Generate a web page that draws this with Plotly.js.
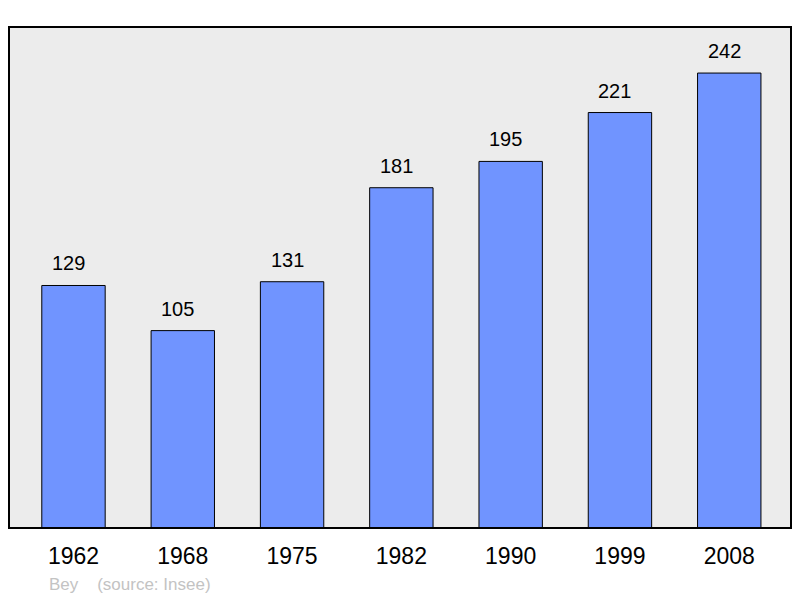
<!DOCTYPE html>
<html><head><meta charset="utf-8">
<script src="https://cdn.plot.ly/plotly-3.0.1.min.js"></script>
<style>html,body{margin:0;padding:0;background:#fff;}#c{width:800px;height:598px;}</style>
</head><body><div id="c"></div>
<script>
var years = ["1962","1968","1975","1982","1990","1999","2008"];
var population = [129,105,131,181,195,221,242];
var footerText = "Bey&nbsp;&nbsp;&nbsp;&nbsp;(source: Insee)";

var W = 800, H = 598, ml = 9, mr = 9, mt = 27, mb = 70;
var pw = W - ml - mr, ph = H - mt - mb;
var FONT = "Liberation Sans, Arial, sans-serif";

var trace = {
  type: "bar",
  x: years,
  y: population,
  width: 0.58,
  marker: {color: "#7094ff", line: {color: "#000", width: 1}},
  hoverinfo: "none"
};
var annotations = years.map(function(yr, i){
  return {x: i, y: population[i], xref: "x", yref: "y", text: String(population[i]),
    showarrow: false, yanchor: "bottom", yshift: 9, xshift: -5,
    font: {family: FONT, size: 20, color: "#000"}};
});
annotations.push({x: (47 - ml) / pw, xref: "paper", y: -(584 - (H - mb)) / ph, yref: "paper",
  text: footerText, showarrow: false,
  font: {family: FONT, size: 17, color: "#c3c3c3"}, xanchor: "left", yanchor: "middle"});

var layout = {
  width: W, height: H,
  margin: {l: ml, r: mr, t: mt, b: mb, pad: 0},
  paper_bgcolor: "#fff",
  plot_bgcolor: "#ececec",
  showlegend: false,
  xaxis: {type: "category", range: [-0.59, 6.565], showgrid: false, zeroline: false,
    showline: false, ticks: "", ticklabelstandoff: 12,
    tickfont: {family: FONT, size: 23, color: "#000"}},
  yaxis: {range: [0, 266.5], showgrid: false, zeroline: false, showticklabels: false, showline: false, ticks: ""},
  shapes: [{type: "rect", xref: "paper", yref: "paper", x0: 0, x1: 1, y0: 0, y1: 1,
    line: {color: "#000", width: 2}, fillcolor: "rgba(0,0,0,0)"}],
  annotations: annotations
};
Plotly.newPlot("c", [trace], layout, {displayModeBar: false, staticPlot: true});
</script></body></html>
